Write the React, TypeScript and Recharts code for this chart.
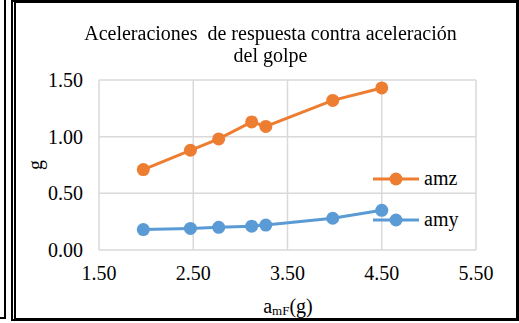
import React from 'react';
import { LineChart, Line, XAxis, YAxis, CartesianGrid, Legend } from 'recharts';

const golpe = [1.97, 2.47, 2.77, 3.12, 3.27, 3.98, 4.5];
const amz = [0.71, 0.88, 0.98, 1.13, 1.09, 1.32, 1.43];
const amy = [0.18, 0.19, 0.2, 0.21, 0.22, 0.28, 0.35];
const xTicks = [1.5, 2.5, 3.5, 4.5, 5.5];
const yTicks = [0, 0.5, 1.0, 1.5];

const series = [
  { name: 'amz', color: '#ED7D31', values: amz },
  { name: 'amy', color: '#5B9BD5', values: amy },
];

const FONT = "'Liberation Serif', 'Times New Roman', serif";

const LegendBox = () => (
  <svg width={110} height={82} style={{ fontFamily: FONT }}>
    {series.map((s, i) => (
      <g key={s.name} transform={`translate(0, ${14 + i * 41})`}>
        <line x1={3} x2={49} y1={0} y2={0} stroke={s.color} strokeWidth={3} />
        <circle cx={26} cy={0} r={6.5} fill={s.color} />
        <text x={54} y={0} dy="0.32em" fontSize={20} style={{ fontFamily: FONT }} fill="#000">
          {s.name}
        </text>
      </g>
    ))}
  </svg>
);

const tickStyle = { fill: '#000', fontSize: 20, style: { fontFamily: FONT } };

export default function App() {
  return (
    <div style={{ position: 'fixed', left: 0, top: 0, width: 519, height: 323, background: '#fff', fontFamily: FONT }}>
      <div style={{ position: 'absolute', left: 0, top: 0, width: 4, height: 317, borderRight: '2px solid #000', borderBottom: '2px solid #000' }} />
      <div style={{ position: 'absolute', left: 11, top: 0, width: 500, height: 315, borderTop: '3px solid #000', borderRight: '3px solid #000', borderBottom: '3px solid #000', borderLeft: '5px double #000' }} />
      <LineChart
        width={519}
        height={323}
        margin={{ top: 80, right: 43, bottom: 43, left: 39 }}
        style={{ position: 'absolute', left: 0, top: 0, fontFamily: FONT }}
      >
        <CartesianGrid stroke="#d9d9d9" strokeWidth={1.5} />
        <XAxis
          type="number"
          dataKey="x"
          domain={[1.5, 5.5]}
          ticks={xTicks}
          tickFormatter={(v: number) => v.toFixed(2)}
          axisLine={false}
          tickLine={false}
          tickMargin={10}
          height={30}
          tick={tickStyle}
          allowDuplicatedCategory={false}
        />
        <YAxis
          type="number"
          domain={[0, 1.5]}
          ticks={yTicks}
          tickFormatter={(v: number) => v.toFixed(2)}
          axisLine={false}
          tickLine={false}
          tickMargin={10}
          width={60}
          tick={tickStyle}
        />
        {series.map((s) => (
          <Line
            key={s.name}
            name={s.name}
            data={golpe.map((x, i) => ({ x, y: s.values[i] }))}
            dataKey="y"
            stroke={s.color}
            strokeWidth={3}
            dot={{ r: 6.5, fill: s.color, stroke: s.color, strokeWidth: 0 }}
            activeDot={false}
            isAnimationActive={false}
          />
        ))}
        <Legend
          layout="horizontal"
          verticalAlign="middle"
          content={() => <LegendBox />}
          wrapperStyle={{ left: 370, top: 165, width: 110, height: 82 }}
        />
      </LineChart>
      <div style={{ position: 'absolute', left: 0, width: 541, top: 22, textAlign: 'center', fontSize: 20, lineHeight: '22px', whiteSpace: 'pre', color: '#000' }}>
        {'Aceleraciones  de respuesta contra aceleración\ndel golpe'}
      </div>
      <div style={{ position: 'absolute', left: 25, top: 155, width: 20, height: 20, fontSize: 20, lineHeight: '20px', transform: 'rotate(-90deg)', textAlign: 'center', color: '#000' }}>
        g
      </div>
      <div style={{ position: 'absolute', left: 188, width: 200, top: 296, textAlign: 'center', fontSize: 20, lineHeight: '20px', color: '#000' }}>
        a<span style={{ fontSize: 13, position: 'relative', top: 2 }}>mF</span>(g)
      </div>
    </div>
  );
}
